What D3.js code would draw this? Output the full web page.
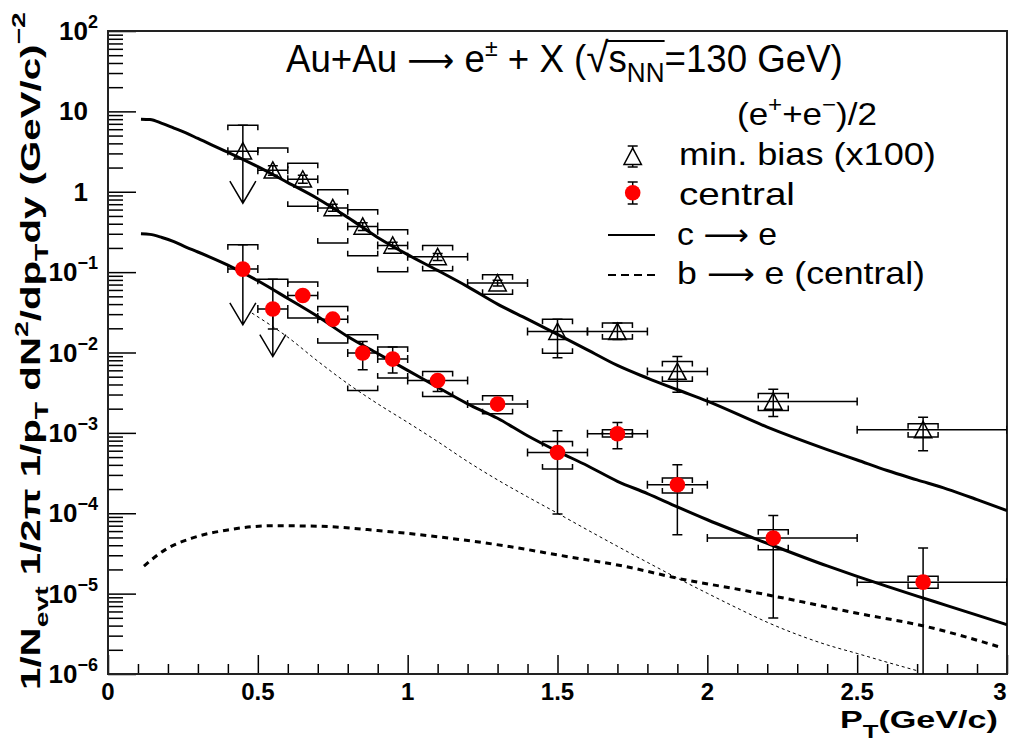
<!DOCTYPE html>
<html>
<head>
<meta charset="utf-8">
<script src="https://cdn.jsdelivr.net/npm/d3@7/dist/d3.min.js"></script>
<style>
html,body{margin:0;padding:0;background:#fff;}
svg{display:block;}
text{font-family:"Liberation Sans",Arial,Helvetica,sans-serif;fill:#000;}
</style>
</head>
<body>
<svg id="chart" width="1009" height="744"></svg>
<script>
// ---------------- data ----------------
const ptCenter = [0.45,0.55,0.65,0.75,0.85,0.95,1.1,1.3,1.5,1.7,1.9,2.22,2.72];
const ptLow    = [0.4,0.5,0.6,0.7,0.8,0.9,1.0,1.2,1.4,1.6,1.8,2.0,2.5];
const ptHigh   = [0.5,0.6,0.7,0.8,0.9,1.0,1.2,1.4,1.6,1.8,2.0,2.5,3.0];

// min. bias (x100)
const mbValue   = [3.2,1.85,1.43,0.63,0.37,0.215,0.155,0.073,0.0182,0.0182,0.0058,0.00246,0.00109];
const mbStatHi  = [6.7,2.1,1.6,0.70,0.41,0.235,0.17,0.079,0.026,0.0232,0.0089,0.0035,0.00157];
const mbStatLo  = [null,1.6,1.28,0.57,0.33,0.195,0.14,0.067,0.0086,0.0145,0.0032,0.0016,0.0006];
const mbSysHi   = [6.7,3.49,2.26,1.06,0.596,0.336,0.214,0.0925,0.026,0.0232,0.0077,0.0031,0.0013];
const mbSysLo   = [null,null,0.66,0.23,0.16,0.101,0.104,0.0532,0.0098,0.0147,0.0044,0.0019,0.00089];
const mbArrowTo = [0.72,null,null,null,null,null,null,null,null,null,null,null,null];

// central
const cValue   = [0.109,0.0347,0.0512,0.026,0.00984,0.00828,0.00449,0.00228,0.00057,0.000975,0.000226,0.0000491,0.0000139];
const cStatHi  = [0.219,0.0818,0.058,0.029,0.0137,0.0117,0.0050,0.0025,0.00106,0.00135,0.0004,0.000094,0.0000369];
const cStatLo  = [null,0.0196,0.045,0.023,0.0061,0.00555,0.00327,0.0020,0.0000977,0.000634,0.0000541,0.00000497,0.0000005];
const cSysHi   = [0.219,0.0818,0.0752,0.0373,0.0166,0.0117,0.0058,0.0029,0.00078,0.00109,0.000274,0.0000624,0.0000164];
const cSysLo   = [null,null,0.0268,0.0131,0.00336,0.0048,0.00284,0.00173,0.000355,0.000887,0.000178,0.0000352,0.0000117];
const cArrowTo = [0.0221,0.0089,null,null,null,null,null,null,null,null,null,null,null];

// c -> e curves
const curvePt  = [0.11,0.14,0.18,0.22,0.26,0.3,0.4,0.5,0.6,0.7,0.8,0.9,1.0,1.1,1.2,1.3,1.4,1.5,1.6,1.7,1.8,1.9,2.0,2.2,2.4,2.5,2.6,2.7,2.8,2.9,3.0];
const ceMbVal  = [8.0,7.9,7.1,6.2,5.4,4.6,3.1,2.05,1.3,0.82,0.48,0.27,0.165,0.105,0.066,0.040,0.026,0.0168,0.0108,0.0069,0.0048,0.00344,0.00248,0.00118,0.00062,0.00046,0.00034,0.00026,0.0002,0.000148,0.000108];
const ceCVal   = [0.30,0.295,0.27,0.24,0.205,0.178,0.122,0.078,0.047,0.028,0.0158,0.0097,0.0060,0.0037,0.0023,0.00152,0.00092,0.00059,0.00039,0.00025,0.000176,0.00012,0.000083,0.0000422,0.0000221,0.0000164,0.0000123,0.0000093,0.0000071,0.0000054,0.0000041];

// b -> e (central), thick dashed
const bePt  = [0.12,0.19,0.28,0.4,0.55,0.7,0.9,1.1,1.33,1.53,1.72,1.92,2.11,2.31,2.5,2.73,2.97];
const beVal = [2.2e-5,3.5e-5,4.9e-5,6.2e-5,7.0e-5,6.9e-5,6.1e-5,5.1e-5,3.9e-5,2.9e-5,2.2e-5,1.5e-5,1.12e-5,8.0e-6,5.7e-6,3.9e-6,2.2e-6];

// thin dashed curve
const thinPt  = [0.48,0.6,0.7,0.8,0.9,1.0,1.1,1.2,1.3,1.4,1.5,1.6,1.7,1.8,1.9,2.0,2.1,2.2,2.3,2.4,2.5,2.6,2.7];
const thinVal = [0.031,0.0155,0.0078,0.0041,0.0023,0.00135,0.00078,0.00044,0.00026,0.00016,0.0001,0.000062,0.0000388,0.0000245,0.0000156,0.0000101,0.0000066,0.0000044,0.0000031,0.0000023,0.0000018,0.0000014,0.0000011];

// axis ticks / labels
const xTickVals  = [0,0.5,1,1.5,2,2.5,3];
const xTickText  = ["0","0.5","1","1.5","2","2.5","3"];
const xMinorVals = [0.1,0.2,0.3,0.4,0.6,0.7,0.8,0.9,1.1,1.2,1.3,1.4,1.6,1.7,1.8,1.9,2.1,2.2,2.3,2.4,2.6,2.7,2.8,2.9];
const yDecades   = [1e2,1e1,1,1e-1,1e-2,1e-3,1e-4,1e-5,1e-6];
const yBaseText  = ["10","10","1","10","10","10","10","10","10"];
const yExpText   = ["2","","","\u22121","\u22122","\u22123","\u22124","\u22125","\u22126"];
const yMinorMult = [2,3,4,5,6,7,8,9];

// ---------------- drawing ----------------
const svg = d3.select('#chart');
const L=108, R=1007, T=31, B=674;
const X = d3.scaleLinear().domain([0,3]).range([L,R]);
const Y = d3.scaleLog().domain([1e-6,1e2]).range([B,T]);

svg.append('defs').append('clipPath').attr('id','clip')
  .append('rect').attr('x',L).attr('y',T).attr('width',R-L).attr('height',B-T);

const yMinorVals = [];
yDecades.slice(1).forEach(d => yMinorMult.forEach(m => yMinorVals.push(d*m)));

function styleAxis(g){
  g.select('.domain').remove();
  g.selectAll('.tick line').attr('stroke','#000').attr('stroke-width',1.5);
  g.selectAll('.tick text').remove();
}
svg.append('g').attr('transform',`translate(0,${B})`)
  .call(d3.axisBottom(X).tickValues(xMinorVals).tickSize(-10).tickFormat(''))
  .call(styleAxis);
svg.append('g').attr('transform',`translate(0,${B})`)
  .call(d3.axisBottom(X).tickValues(xTickVals).tickSize(-19).tickFormat(''))
  .call(styleAxis);
svg.append('g').attr('transform',`translate(${L},0)`)
  .call(d3.axisLeft(Y).tickValues(yMinorVals).tickSize(-15).tickFormat(''))
  .call(styleAxis);
svg.append('g').attr('transform',`translate(${L},0)`)
  .call(d3.axisLeft(Y).tickValues(yDecades).tickSize(-28).tickFormat(''))
  .call(styleAxis);

// frame
svg.append('rect').attr('x',L).attr('y',T).attr('width',R-L).attr('height',B-T)
  .attr('fill','none').attr('stroke','#222').attr('stroke-width',2);

// x tick labels
svg.append('g').selectAll('text').data(xTickVals).join('text')
  .attr('x',(d,i)=> i===xTickVals.length-1 ? X(d)-7 : X(d)).attr('y',700).attr('text-anchor','middle')
  .attr('font-size',24).attr('font-weight','bold')
  .text((d,i)=>xTickText[i]);

// y tick labels
yDecades.forEach((d,i)=>{
  const yy = Y(d);
  const t = svg.append('text').attr('y',yy+9).attr('font-weight','bold').attr('font-size',26)
    .attr('text-anchor','end');
  if(yExpText[i]===''){
    t.attr('x',88).text(yBaseText[i]);
  } else {
    t.attr('x',98);
    t.append('tspan').text(yBaseText[i]);
    t.append('tspan').attr('dy',-12).attr('font-size',18).text(yExpText[i]);
  }
});

function fit(sel, target){
  const bb = sel.node().getBBox();
  const s = target / bb.width;
  const x0 = bb.x;
  sel.attr('transform', `translate(${x0},0) scale(${s},1) translate(${-x0},0)`);
}

// x title
const xt = svg.append('text').attr('x',840).attr('y',728).attr('font-size',24).attr('font-weight','bold');
xt.append('tspan').text('P');
xt.append('tspan').attr('dy',10).attr('font-size',18).text('T');
xt.append('tspan').attr('dy',-10).attr('font-size',24).text('(GeV/c)');
fit(xt, 158);

// y title (rotated)
const yg = svg.append('g').attr('transform','rotate(-90)');
const yt = yg.append('text').attr('x',-690).attr('y',40).attr('font-size',27).attr('font-weight','bold');
yt.append('tspan').text('1/N');
yt.append('tspan').attr('dy',8).attr('font-size',19).text('evt');
yt.append('tspan').attr('dy',-8).attr('font-size',27).text(' 1/2\u03c0 1/p');
yt.append('tspan').attr('dy',8).attr('font-size',19).text('T');
yt.append('tspan').attr('dy',-8).attr('font-size',27).text(' dN');
yt.append('tspan').attr('dy',-12).attr('font-size',19).text('2');
yt.append('tspan').attr('dy',12).attr('font-size',27).text('/dp');
yt.append('tspan').attr('dy',8).attr('font-size',19).text('T');
yt.append('tspan').attr('dy',-8).attr('font-size',27).text('dy (GeV/c)');
yt.append('tspan').attr('dy',-15).attr('font-size',19).text('\u22122');
fit(yt, 678);

// title
const title = svg.append('text').attr('x',286).attr('y',72).attr('font-size',38);
title.append('tspan').text('Au+Au ');
title.append('tspan').attr('font-family','DejaVu Sans').attr('font-size',34).text('\u27f6');
title.append('tspan').text(' e');
title.append('tspan').attr('dy',-16).attr('font-size',24).text('\u00b1');
title.append('tspan').attr('dy',16).attr('font-size',38).text(' + X (');
title.append('tspan').attr('font-size',42).text('\u221a');
title.append('tspan').attr('font-size',38).text('s');
title.append('tspan').attr('dy',10).attr('font-size',27).text('NN');
title.append('tspan').attr('dy',-10).attr('font-size',38).text('=130 GeV)');
fit(title, 557);
{
  const full = title.text();
  const n = title.node();
  const iS = full.indexOf('\u221a');
  const iE = full.indexOf('=');
  const x1 = n.getStartPositionOfChar(iS+1).x;
  const x2 = n.getStartPositionOfChar(iE).x;
  const bb = n.getBBox();
  const s = 557/bb.width;
  const tx = v => bb.x + (v-bb.x)*s;
  svg.append('line').attr('x1',tx(x1)-2).attr('x2',tx(x2)).attr('y1',41).attr('y2',41)
    .attr('stroke','#000').attr('stroke-width',2);
}

// plot content
const plot = svg.append('g').attr('clip-path','url(#clip)');
const line = d3.line().x(d=>X(d[0])).y(d=>Y(d[1])).curve(d3.curveMonotoneX);

plot.append('path').datum(d3.zip(thinPt,thinVal)).attr('d',line)
  .attr('fill','none').attr('stroke','#000').attr('stroke-width',1).attr('stroke-dasharray','3,3');
plot.append('path').datum(d3.zip(bePt,beVal)).attr('d',line)
  .attr('fill','none').attr('stroke','#000').attr('stroke-width',3).attr('stroke-dasharray','6,5');
plot.append('path').datum(d3.zip(curvePt,ceMbVal)).attr('d',line)
  .attr('fill','none').attr('stroke','#000').attr('stroke-width',3);
plot.append('path').datum(d3.zip(curvePt,ceCVal)).attr('d',line)
  .attr('fill','none').attr('stroke','#000').attr('stroke-width',3);

function drawErrors(vals, statHi, statLo, sysHi, sysLo, arrowTo){
  const g = plot.append('g').attr('stroke','#000').attr('stroke-width',1.5).attr('fill','none');
  vals.forEach((v,i)=>{
    const cx = X(ptCenter[i]), cy = Y(v);
    const xl = X(ptLow[i]), xh = X(ptHigh[i]);
    g.append('path').attr('d',`M${xl},${cy}H${xh}M${xl},${cy-4}V${cy+4}M${xh},${cy-4}V${cy+4}`);
    if(statHi[i]!=null){
      const ty = Y(statHi[i]);
      g.append('path').attr('d',`M${cx},${cy}V${ty}M${cx-5},${ty}H${cx+5}`);
    }
    if(statLo[i]!=null){
      const by = Y(statLo[i]);
      g.append('path').attr('d',`M${cx},${cy}V${by}M${cx-5},${by}H${cx+5}`);
    }
    if(sysHi[i]!=null){
      const sy = Y(sysHi[i]);
      g.append('path').attr('d',`M${cx-15},${sy+5}V${sy}H${cx+15}V${sy+5}`);
    }
    if(sysLo[i]!=null){
      const sy = Y(sysLo[i]);
      g.append('path').attr('d',`M${cx-15},${sy-5}V${sy}H${cx+15}V${sy-5}`);
    }
    if(arrowTo[i]!=null){
      const ay = Y(arrowTo[i]);
      g.append('path').attr('d',`M${cx},${cy}V${ay}M${cx-13},${ay-22}L${cx},${ay}L${cx+13},${ay-22}`);
    }
  });
}
drawErrors(mbValue, mbStatHi, mbStatLo, mbSysHi, mbSysLo, mbArrowTo);
drawErrors(cValue, cStatHi, cStatLo, cSysHi, cSysLo, cArrowTo);

const triPath = 'M0,-8.5L8.7,7.8L-8.7,7.8Z';
plot.append('g').selectAll('path').data(mbValue).join('path')
  .attr('d',triPath).attr('transform',(d,i)=>`translate(${X(ptCenter[i])},${Y(d)})`)
  .attr('fill','none').attr('stroke','#000').attr('stroke-width',1.5);
plot.append('g').selectAll('circle').data(cValue).join('circle')
  .attr('cx',(d,i)=>X(ptCenter[i])).attr('cy',d=>Y(d)).attr('r',7.8).attr('fill','#ff0000');

// legend
const lg = svg.append('g');
const eh = lg.append('text').attr('x',737).attr('y',125).attr('font-size',32);
eh.append('tspan').text('(e');
eh.append('tspan').attr('dy',-13).attr('font-size',22).text('+');
eh.append('tspan').attr('dy',13).attr('font-size',32).text('+e');
eh.append('tspan').attr('dy',-13).attr('font-size',22).text('\u2212');
eh.append('tspan').attr('dy',13).attr('font-size',32).text(')/2');
fit(eh, 140);

lg.append('path').attr('d',`M632.7,146V167M627.7,146H637.7M627.7,167H637.7`).attr('stroke','#000').attr('stroke-width',1.5);
lg.append('path').attr('d',triPath).attr('transform','translate(632.7,156.7)').attr('fill','#fff').attr('stroke','#000').attr('stroke-width',1.5);
lg.append('path').attr('d',`M632.7,182V204M627.7,182H637.7M627.7,204H637.7`).attr('stroke','#000').attr('stroke-width',1.5);
lg.append('circle').attr('cx',632.7).attr('cy',192.7).attr('r',7.8).attr('fill','#ff0000');
lg.append('line').attr('x1',608).attr('x2',655).attr('y1',235).attr('y2',235).attr('stroke','#000').attr('stroke-width',2);
lg.append('line').attr('x1',608).attr('x2',655).attr('y1',275).attr('y2',275).attr('stroke','#000').attr('stroke-width',2).attr('stroke-dasharray','8,5');

const t1 = lg.append('text').attr('x',679).attr('y',165).attr('font-size',32).text('min. bias (x100)');
fit(t1,257);
const t2 = lg.append('text').attr('x',679).attr('y',205).attr('font-size',32).text('central');
fit(t2,116);
const t3 = lg.append('text').attr('x',677).attr('y',245).attr('font-size',32);
t3.append('tspan').text('c ');
t3.append('tspan').attr('font-family','DejaVu Sans').attr('font-size',30).text('\u27f6');
t3.append('tspan').text(' e');
fit(t3,100);
const t4 = lg.append('text').attr('x',677).attr('y',284).attr('font-size',32);
t4.append('tspan').text('b ');
t4.append('tspan').attr('font-family','DejaVu Sans').attr('font-size',30).text('\u27f6');
t4.append('tspan').text(' e (central)');
fit(t4,248);
</script>
</body>
</html>
